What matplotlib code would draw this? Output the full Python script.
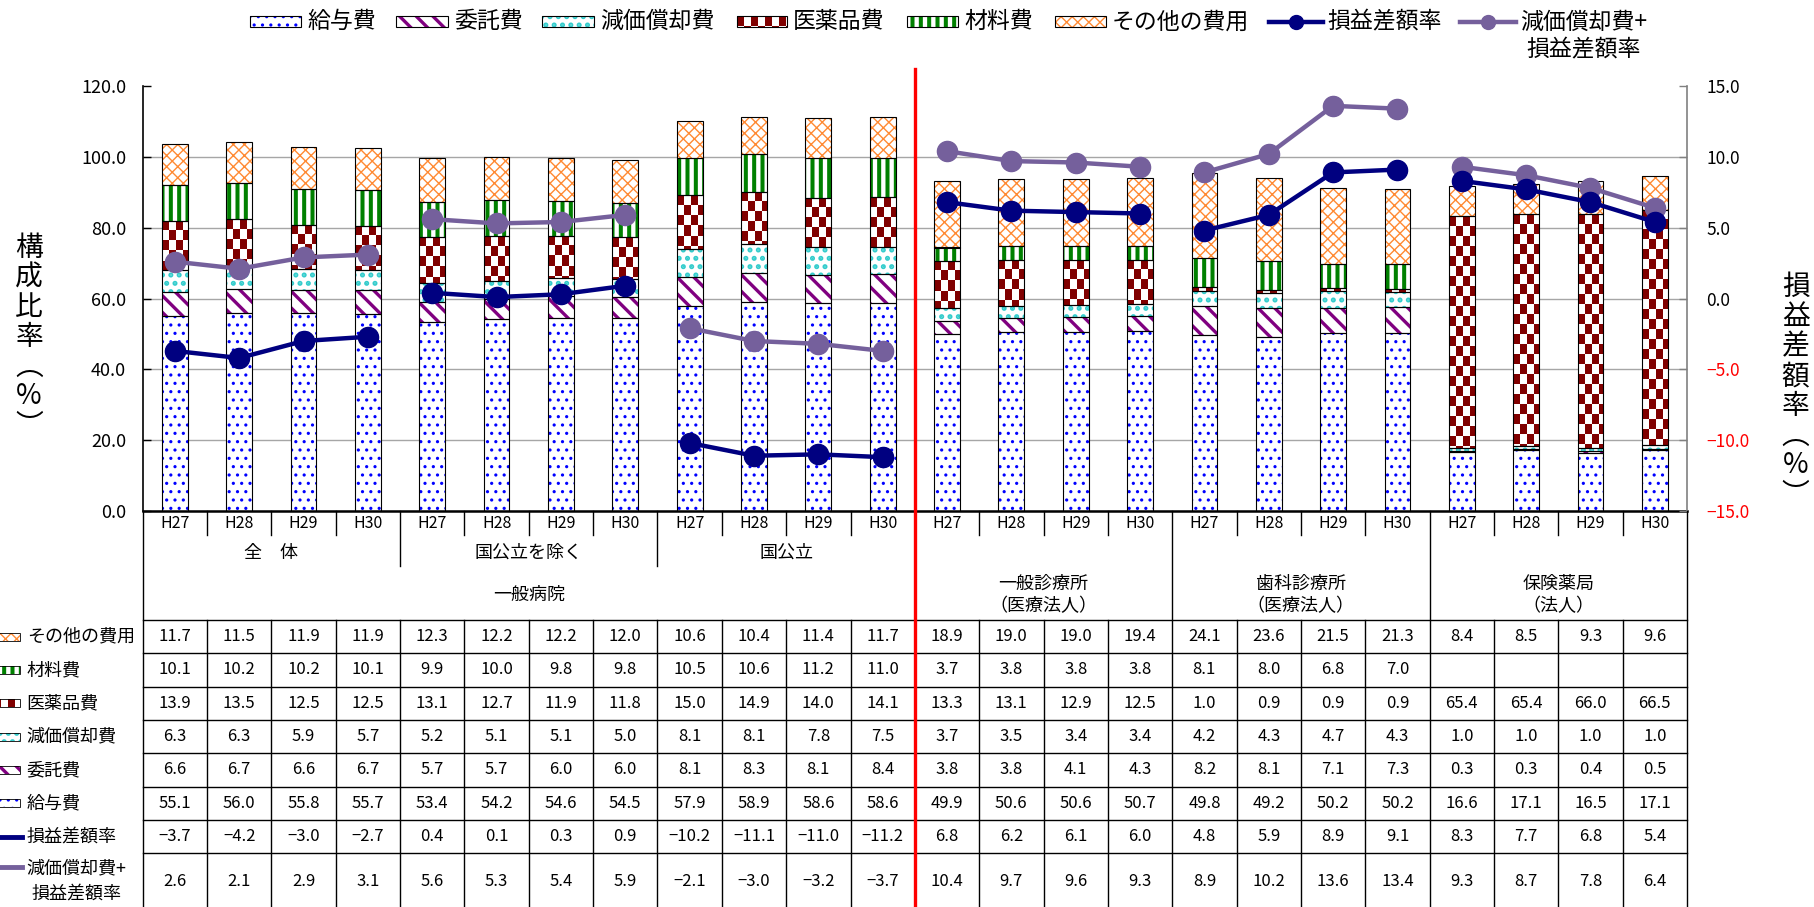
import numpy as np
import matplotlib
matplotlib.use("Agg")
import matplotlib.pyplot as plt
from matplotlib.colors import ListedColormap
from matplotlib.lines import Line2D

plt.rcParams['font.family'] = ['Noto Sans CJK JP', 'DejaVu Sans']

# ---- data -----------------------------------------------------------------
years = ['H27', 'H28', 'H29', 'H30']
subgroups = ['全\u3000体', '国公立を除く', '国公立']
groups = ['一般病院', '一般診療所\n（医療法人）', '歯科診療所\n（医療法人）', '保険薬局\n（法人）']
group_sizes = [12, 4, 4, 4]

cost_names = ['給与費', '委託費', '減価償却費', '医薬品費', '材料費', 'その他の費用']
salary = [55.1, 56.0, 55.8, 55.7, 53.4, 54.2, 54.6, 54.5, 57.9, 58.9, 58.6, 58.6,
          49.9, 50.6, 50.6, 50.7, 49.8, 49.2, 50.2, 50.2, 16.6, 17.1, 16.5, 17.1]
outsourcing = [6.6, 6.7, 6.6, 6.7, 5.7, 5.7, 6.0, 6.0, 8.1, 8.3, 8.1, 8.4,
               3.8, 3.8, 4.1, 4.3, 8.2, 8.1, 7.1, 7.3, 0.3, 0.3, 0.4, 0.5]
depreciation = [6.3, 6.3, 5.9, 5.7, 5.2, 5.1, 5.1, 5.0, 8.1, 8.1, 7.8, 7.5,
                3.7, 3.5, 3.4, 3.4, 4.2, 4.3, 4.7, 4.3, 1.0, 1.0, 1.0, 1.0]
medicine = [13.9, 13.5, 12.5, 12.5, 13.1, 12.7, 11.9, 11.8, 15.0, 14.9, 14.0, 14.1,
            13.3, 13.1, 12.9, 12.5, 1.0, 0.9, 0.9, 0.9, 65.4, 65.4, 66.0, 66.5]
materials = [10.1, 10.2, 10.2, 10.1, 9.9, 10.0, 9.8, 9.8, 10.5, 10.6, 11.2, 11.0,
             3.7, 3.8, 3.8, 3.8, 8.1, 8.0, 6.8, 7.0, None, None, None, None]
other = [11.7, 11.5, 11.9, 11.9, 12.3, 12.2, 12.2, 12.0, 10.6, 10.4, 11.4, 11.7,
         18.9, 19.0, 19.0, 19.4, 24.1, 23.6, 21.5, 21.3, 8.4, 8.5, 9.3, 9.6]
profit = [-3.7, -4.2, -3.0, -2.7, 0.4, 0.1, 0.3, 0.9, -10.2, -11.1, -11.0, -11.2,
          6.8, 6.2, 6.1, 6.0, 4.8, 5.9, 8.9, 9.1, 8.3, 7.7, 6.8, 5.4]
profit_dep = [2.6, 2.1, 2.9, 3.1, 5.6, 5.3, 5.4, 5.9, -2.1, -3.0, -3.2, -3.7,
              10.4, 9.7, 9.6, 9.3, 8.9, 10.2, 13.6, 13.4, 9.3, 8.7, 7.8, 6.4]
cost_values = [salary, outsourcing, depreciation, medicine, materials, other]

NAVY = '#000080'
PURPLE = '#75609C'
STYLE = {
    '給与費': dict(color='#0000FF', hatch='..', hlw=1.1),
    '委託費': dict(color='#800080', hatch='\\\\', hlw=2.4),
    '減価償却費': dict(color='#33CCCC', hatch='..', hlw=2.4),
    '医薬品費': dict(color='#800000', hatch=None, hlw=1.0),
    '材料費': dict(color='#008000', hatch='||', hlw=2.9),
    'その他の費用': dict(color='#FF8A33', hatch='xxx', hlw=1.0),
}

# ---- helpers --------------------------------------------------------------
FW, FH = 1815, 907


def X(px):
    return px / FW


def Y(py):
    return 1 - py / FH


def fmt(v):
    return '' if v is None else f'{v:.1f}'.replace('-', '\u2212')


def checker(axis, patch, color, cell=(7.0, 10.0)):
    # checkerboard fill clipped to one rectangle
    x0, y0 = patch.get_x(), patch.get_y()
    w, h = patch.get_width(), patch.get_height()
    p0 = axis.transData.transform((x0, y0))
    p1 = axis.transData.transform((x0 + w, y0 + h))
    wpx, hpx = abs(p1[0] - p0[0]), abs(p1[1] - p0[1])
    if wpx <= 0 or hpx <= 0:
        return
    sx, sy = w * cell[0] / wpx, h * cell[1] / hpx
    nx, ny = int(np.ceil(wpx / cell[0])), int(np.ceil(hpx / cell[1]))
    grid = (np.indices((ny, nx)).sum(axis=0) + 1) % 2
    im = axis.imshow(grid, cmap=ListedColormap(['white', color]), vmin=0, vmax=1,
                     extent=(x0, x0 + nx * sx, y0 + h - ny * sy, y0 + h),
                     origin='upper', aspect='auto', interpolation='nearest',
                     zorder=patch.get_zorder() + 0.1)
    im.set_clip_path(patch)


def styled_bars(axis, xs, heights, bottoms, width, key, lw=0.8, clip=True):
    st = STYLE[key]
    with plt.rc_context({'hatch.linewidth': st['hlw']}):
        fills = axis.bar(xs, heights, width, bottom=bottoms, color='white',
                         edgecolor=st['color'], hatch=st['hatch'], linewidth=0, zorder=2)
    for p in fills:
        if hasattr(p, 'set_hatch_linewidth'):
            p.set_hatch_linewidth(st['hlw'])
        if st['hatch'] is None:
            checker(axis, p, st['color'])
    axis.bar(xs, heights, width, bottom=bottoms, fill=False, edgecolor='black',
             linewidth=lw, zorder=3, clip_on=clip)


def swatch(key, x0, x1, yc, h, lw=0.8):
    sw = fig.add_axes([X(x0), Y(yc + h / 2), (x1 - x0) / FW, h / FH])
    sw.set_xlim(0, 1)
    sw.set_ylim(0, 1)
    sw.set_autoscale_on(False)
    sw.axis('off')
    styled_bars(sw, [0.5], [1], [0], 1.0, key, lw=lw, clip=False)


# ---- main chart -----------------------------------------------------------
fig = plt.figure(figsize=(FW / 100, FH / 100), dpi=100, facecolor='white')

PLOT_L, PLOT_R, PLOT_T, PLOT_B = 142.7, 1687.0, 86.0, 511.0
ax = fig.add_axes([X(PLOT_L), Y(PLOT_B), (PLOT_R - PLOT_L) / FW, (PLOT_B - PLOT_T) / FH])
n = len(salary)
x = np.arange(n)
ax.set_xlim(-0.5, n - 0.5)
ax.set_ylim(0, 120)
ax.set_autoscale_on(False)

bottom = np.zeros(n)
for key, vals in zip(cost_names, cost_values):
    v = np.array([np.nan if a is None else a for a in vals], dtype=float)
    ok = ~np.isnan(v)
    styled_bars(ax, x[ok], v[ok], bottom[ok], 0.4, key)
    bottom += np.nan_to_num(v)

ax.set_xticks([])
lticks = np.arange(0, 121, 20)
ax.set_yticks(lticks)
ax.set_yticklabels([f'{t:.1f}' for t in lticks], fontsize=13)
ax.tick_params(axis='y', direction='in', length=6, width=1, pad=12)
ax.yaxis.grid(True, color='#A6A6A6', linewidth=1.0)
ax.get_ygridlines()[-1].set_visible(False)
ax.set_axisbelow(True)
ax.spines['top'].set_visible(False)
ax.spines['right'].set_visible(False)
ax.spines['left'].set_linewidth(1.2)
ax.spines['bottom'].set_linewidth(1.8)

ax2 = ax.twinx()
ax2.set_ylim(-15, 15)
for s in range(0, n, 4):
    idx = slice(s, s + 4)
    ax2.plot(x[idx], profit_dep[idx], color=PURPLE, lw=3.2, marker='o', ms=14.5, zorder=3)
for s in range(0, n, 4):
    idx = slice(s, s + 4)
    ax2.plot(x[idx], profit[idx], color=NAVY, lw=3.2, marker='o', ms=14.5, zorder=4)
ax2.set_xlim(-0.5, n - 0.5)
ax2.set_ylim(-15, 15)
rticks = np.arange(-15, 16, 5)
ax2.set_yticks(rticks)
ax2.set_yticklabels([fmt(float(t)) for t in rticks], fontsize=12.5)
for lab, t in zip(ax2.get_yticklabels(), rticks):
    lab.set_color('#FF0000' if t < 0 else 'black')
ax2.tick_params(axis='y', direction='in', length=6, width=1, color='#808080', pad=14)
for s in ('top', 'left', 'bottom'):
    ax2.spines[s].set_visible(False)
ax2.spines['right'].set_color('#808080')
ax2.spines['right'].set_linewidth(1.2)

# vertical axis titles, one character per line
for i, ch in enumerate(['構', '成', '比', '率', '︵', '%', '︶']):
    fig.text(X(29), Y(248 + i * 29.7), ch, fontsize=20, ha='center', va='center')
for i, ch in enumerate(['損', '益', '差', '額', '率', '︵', '%', '︶']):
    fig.text(X(1795.7), Y(287 + i * 29.7), ch, fontsize=20, ha='center', va='center')

# ---- legend ---------------------------------------------------------------
LEG_Y = 21.7
leg_items = [('給与費', 249.6, 301), ('委託費', 396, 448), ('減価償却費', 542, 594),
             ('医薬品費', 737, 787), ('材料費', 907, 958), ('その他の費用', 1055, 1106)]
for key, x0, x1 in leg_items:
    swatch(key, x0, x1, LEG_Y, 11)
    fig.text(X(x1 + 6), Y(LEG_Y), key, fontsize=16.5, ha='left', va='center')

for color, x0, x1, label, yc in [(NAVY, 1269, 1323, '損益差額率', LEG_Y),
                                 (PURPLE, 1460, 1516, '減価償却費+\n損益差額率', 35.9)]:
    fig.add_artist(Line2D([X(x0), X(x1)], [Y(LEG_Y)] * 2, color=color, lw=3.2))
    fig.add_artist(Line2D([X((x0 + x1) / 2)], [Y(LEG_Y)], color=color, marker='o', ms=10))
    fig.text(X(x1 + 4), Y(yc), label, fontsize=16.5, ha='left', va='center',
             multialignment='center', linespacing=1.25)

# ---- data table below the chart -------------------------------------------
tab = fig.add_axes([0, 0, 1, 1], zorder=5)
pos = ax.get_position()
upf = n / pos.width
tab.set_xlim(-0.5 - pos.x0 * upf, n - 0.5 + (1 - pos.x1) * upf)
tab.set_ylim(FH, 0)
tab.axis('off')

ROW_TOP, ROW_H = 620.0, 33.33
row_edges = [ROW_TOP + k * ROW_H for k in range(8)]
LINE = dict(color='black', lw=1.0, clip_on=False)

group_edges = list(np.cumsum([0] + group_sizes) - 0.5)
sub_edges = [3.5, 7.5]
for b in np.arange(-0.5, n, 1.0):
    if b == 11.5:
        continue
    if b in group_edges:
        tab.plot([b, b], [PLOT_B, FH], **LINE)
    elif b in sub_edges:
        tab.plot([b, b], [PLOT_B, 566], **LINE)
        tab.plot([b, b], [ROW_TOP, FH], **LINE)
    else:
        tab.plot([b, b], [PLOT_B, 535], **LINE)
        tab.plot([b, b], [ROW_TOP, FH], **LINE)
for yv in row_edges:
    tab.plot([-0.5, n - 0.5], [yv, yv], **LINE)
tab.plot([11.5, 11.5], [69, FH], color='#FF0000', lw=2.4, clip_on=False)

for i in range(n):
    tab.text(i, 523, years[i % 4], ha='center', va='center', fontsize=11.5)
for k, name in enumerate(subgroups):
    tab.text(4 * k + 1.5, 553, name, ha='center', va='center', fontsize=13)
start = 0
for name, size in zip(groups, group_sizes):
    tab.text(start + (size - 1) / 2, 595, name, ha='center', va='center',
             fontsize=13, linespacing=1.35)
    start += size

table_rows = [('その他の費用', other), ('材料費', materials), ('医薬品費', medicine),
              ('減価償却費', depreciation), ('委託費', outsourcing), ('給与費', salary),
              ('損益差額率', profit), ('減価償却費+\n損益差額率', profit_dep)]
for r, (name, vals) in enumerate(table_rows):
    if r < 7:
        yc = row_edges[r] + ROW_H / 2
    else:
        yc = (row_edges[7] + FH) / 2 + 1
    for i, v in enumerate(vals):
        tab.text(i, yc, fmt(v), ha='center', va='center', fontsize=12)
    fig.text(X(26.7), Y(yc), name, ha='left', va='center', fontsize=13,
             multialignment='center', linespacing=1.55)
    if name in STYLE:
        swatch(name, -6, 20, yc, 8, lw=0.6)
    elif r == 6:
        fig.add_artist(Line2D([X(0), X(22)], [Y(yc)] * 2, color=NAVY, lw=3.5))
    else:
        fig.add_artist(Line2D([X(0), X(22)], [Y(yc - 14)] * 2, color=PURPLE, lw=3.5))

fig.savefig('out.png', dpi=100, facecolor='white')
